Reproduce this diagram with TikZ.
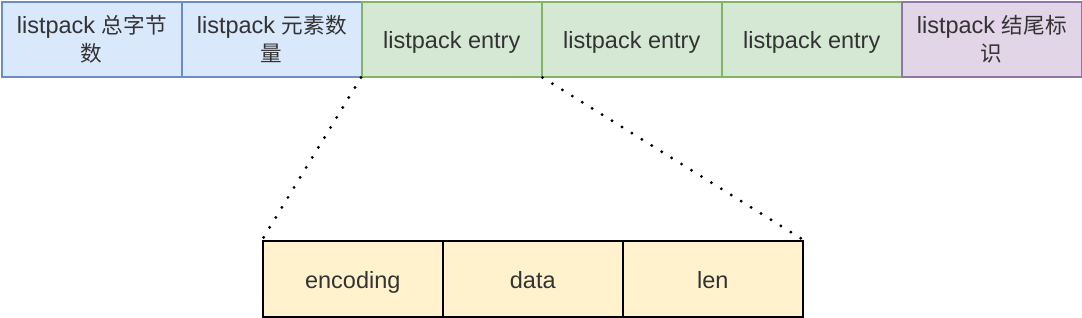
\documentclass[tikz,border=0pt]{standalone}
\usepackage{fontspec}
\setmainfont{Liberation Sans}
\newfontfamily\cjk[Scale=0.92]{Noto Sans CJK SC}
\definecolor{bluef}{HTML}{DAE8FC}\definecolor{blued}{HTML}{6C8EBF}
\definecolor{greenf}{HTML}{D5E8D4}\definecolor{greend}{HTML}{82B366}
\definecolor{purf}{HTML}{E1D5E7}\definecolor{purd}{HTML}{9673A6}
\definecolor{yelf}{HTML}{FFF2CC}\definecolor{txt}{HTML}{333333}
\tikzset{
  cell/.style={draw, line width=1.5pt, minimum width=180pt, minimum height=75pt, inner sep=0pt,
    anchor=north west, align=center, text=txt, font=\fontsize{23.5}{28}\selectfont},
  oneline/.style={text height=19pt, text depth=0pt},
  bluecell/.style={cell, fill=bluef, draw=blued},
  greencell/.style={cell, oneline, fill=greenf, draw=greend},
  purcell/.style={cell, fill=purf, draw=purd},
  yelcell/.style={cell, oneline, fill=yelf, draw=black, minimum height=76pt},
  dotline/.style={line width=3.2pt, line cap=round, dash pattern=on 0pt off 11.7pt}
}
\begin{document}
\begin{tikzpicture}[x=1pt,y=-1pt]
\useasboundingbox (0,0) rectangle (1082,317);
\node[bluecell] (a) at (1,1) {listpack {\cjk 总字节}\\{\cjk 数}};
\node[bluecell] (b) at (181,1) {listpack {\cjk 元素数}\\{\cjk 量}};
\node[greencell] (c) at (361,1) {listpack entry};
\node[greencell] (d) at (541,1) {listpack entry};
\node[greencell] (e) at (721,1) {listpack entry};
\node[purcell] (f) at (901,1) {listpack {\cjk 结尾标}\\{\cjk 识}};
\node[yelcell] (g) at (262,240) {encoding};
\node[yelcell] (h) at (442,240) {data};
\node[yelcell] (i) at (622,240) {len};
\draw[dotline] (c.south west) -- (g.north west);
\draw[dotline] (c.south east) -- (i.north east);
\end{tikzpicture}
\end{document}
